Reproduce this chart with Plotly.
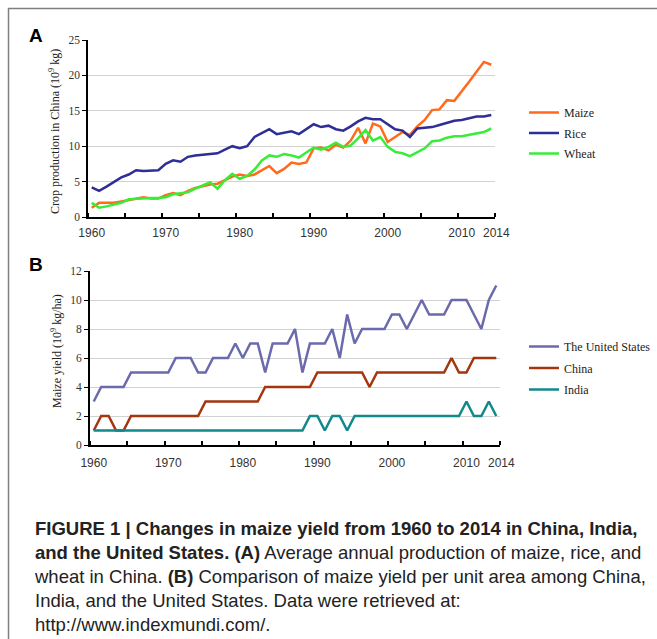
import plotly.graph_objects as go

W, H = 657, 639

years = list(range(1960, 2015))

# Panel A: crop production in China (10^9 kg)
maize = [1.3, 2.0, 2.0, 2.0, 2.2, 2.4, 2.6, 2.8, 2.6, 2.6,
         3.1, 3.4, 3.1, 3.7, 4.1, 4.4, 4.6, 4.7, 5.2, 5.7,
         6.0, 5.8, 6.0, 6.6, 7.2, 6.2, 6.8, 7.7, 7.5, 7.7,
         9.7, 9.8, 9.4, 10.2, 9.8, 10.8, 12.6, 10.4, 13.2, 12.8,
         10.6, 11.3, 12.0, 11.6, 12.8, 13.7, 15.1, 15.2, 16.5, 16.4,
         17.7, 19.1, 20.5, 21.9, 21.5]
rice = [4.2, 3.7, 4.3, 5.0, 5.6, 6.0, 6.6, 6.5, 6.5, 6.6,
        7.5, 8.0, 7.8, 8.5, 8.7, 8.8, 8.8, 9.0, 9.5, 10.0,
        9.7, 10.0, 11.3, 11.8, 12.4, 11.7, 11.9, 12.1, 11.7, 12.4,
        13.1, 12.7, 12.9, 12.4, 12.2, 12.8, 13.5, 14.0, 13.8, 13.8,
        13.1, 12.4, 12.2, 11.3, 12.5, 12.6, 12.7, 13.0, 13.3, 13.6,
        13.7, 14.0, 14.2, 14.2, 14.4]
wheat = [2.0, 1.3, 1.5, 1.7, 2.0, 2.5, 2.6, 2.6, 2.7, 2.7,
         2.8, 3.2, 3.4, 3.5, 4.0, 4.4, 4.9, 4.0, 5.2, 6.1,
         5.4, 5.8, 6.7, 8.0, 8.7, 8.5, 8.9, 8.7, 8.4, 9.1,
         9.8, 9.5, 9.9, 10.5, 9.9, 10.1, 11.1, 12.3, 10.8, 11.3,
         9.9, 9.2, 9.0, 8.6, 9.1, 9.7, 10.7, 10.8, 11.2, 11.4,
         11.4, 11.6, 11.9, 12.0, 12.5]

# Panel B: maize yield per unit area
us_yield = [3, 4, 4, 4, 4, 5, 5, 5, 5, 5,
            5, 6, 6, 6, 5, 5, 6, 6, 6, 7,
            6, 7, 7, 5, 7, 7, 7, 8, 5, 7,
            7, 7, 8, 6, 9, 7, 8, 8, 8, 8,
            9, 9, 8, 9, 10, 9, 9, 9, 10, 10,
            10, 9, 8, 10, 11]
china_yield = [1, 2, 2, 1, 1, 2, 2, 2, 2, 2,
               2, 2, 2, 2, 2, 3, 3, 3, 3, 3,
               3, 3, 3, 4, 4, 4, 4, 4, 4, 4,
               5, 5, 5, 5, 5, 5, 5, 4, 5, 5,
               5, 5, 5, 5, 5, 5, 5, 5, 6, 5,
               5, 6, 6, 6, 6]
india_yield = [1, 1, 1, 1, 1, 1, 1, 1, 1, 1,
               1, 1, 1, 1, 1, 1, 1, 1, 1, 1,
               1, 1, 1, 1, 1, 1, 1, 1, 1, 2,
               2, 1, 2, 2, 1, 2, 2, 2, 2, 2,
               2, 2, 2, 2, 2, 2, 2, 2, 2, 2,
               3, 2, 2, 3, 2]

decade_ticks = [1960, 1970, 1980, 1990, 2000, 2010]
last_year = 2014

SERIF = "Liberation Serif"
SANS = "Liberation Sans"


def px_x(x):
    return x / W


def px_y(y):
    return 1 - y / H


fig = go.Figure()

panel_a = [("Maize", maize, "#ff6a1c"),
           ("Rice", rice, "#2e2e96"),
           ("Wheat", wheat, "#38ec38")]
for name, vals, col in panel_a:
    fig.add_trace(go.Scatter(x=years, y=vals, name=name, mode="lines",
                             line=dict(color=col, width=2.5),
                             legendgroup=name,
                             xaxis="x", yaxis="y", legend="legend"))

panel_b = [("The United States", us_yield, "#6a6aac"),
           ("China", china_yield, "#a3360f"),
           ("India", india_yield, "#12898a")]
for name, vals, col in panel_b:
    fig.add_trace(go.Scatter(x=years, y=vals, name=name, mode="lines",
                             line=dict(color=col, width=2.5),
                             legendgroup=name,
                             xaxis="x2", yaxis="y2", legend="legend2"))

tick_font = dict(family=SANS, size=12, color="#333333")


def x_axis(domain, anchor, lw, standoff):
    return dict(domain=domain, anchor=anchor, range=[1959.5, 2014.5],
                tickmode="array", tickvals=decade_ticks,
                ticktext=[str(v) for v in decade_ticks], tickangle=0,
                ticklabelstandoff=standoff,
                ticks="", showgrid=False, zeroline=False,
                showline=True, linecolor="black", linewidth=lw,
                tickfont=tick_font,
                minor=dict(tickmode="linear", tick0=1959.5, dtick=5,
                           ticks="inside", ticklen=4, tickwidth=1.5,
                           tickcolor="black", showgrid=False),
                automargin=False, fixedrange=True)


def y_axis(domain, anchor, rng, step, lw):
    return dict(domain=domain, anchor=anchor, range=rng, dtick=step,
                tick0=0, ticks="outside", ticklen=4, tickwidth=1,
                tickcolor="black", showline=True, linecolor="black",
                linewidth=lw, showgrid=True, gridcolor="#d2d2d2",
                gridwidth=1, zeroline=False,
                tickfont=dict(family=SERIF, size=11.5, color="#333333"),
                automargin=False, fixedrange=True)


annotations = [
    dict(text="<b>A</b>", x=px_x(36), y=px_y(35), xref="paper", yref="paper",
         xanchor="center", yanchor="middle", showarrow=False,
         font=dict(family=SANS, size=19, color="black")),
    dict(text="<b>B</b>", x=px_x(36), y=px_y(264), xref="paper", yref="paper",
         xanchor="center", yanchor="middle", showarrow=False,
         font=dict(family=SANS, size=19, color="black")),
    # end-year labels, set slightly right of the final data column
    dict(text=str(last_year), x=last_year, xref="x", y=px_y(233), yref="paper",
         xanchor="center", yanchor="middle", xshift=5, showarrow=False,
         font=tick_font),
    dict(text=str(last_year), x=last_year, xref="x2", y=px_y(463), yref="paper",
         xanchor="center", yanchor="middle", xshift=5, showarrow=False,
         font=tick_font),
    dict(text="Crop production in China (10<sup>9</sup> kg)", textangle=-90,
         x=px_x(54), y=px_y(132), xref="paper", yref="paper",
         xanchor="center", yanchor="middle", showarrow=False,
         font=dict(family=SERIF, size=12, color="#222222")),
    dict(text="Maize yield (10<sup>9</sup> kg/ha)", textangle=-90,
         x=px_x(56), y=px_y(351), xref="paper", yref="paper",
         xanchor="center", yanchor="middle", showarrow=False,
         font=dict(family=SERIF, size=12, color="#222222")),
    dict(text=("<b>FIGURE 1 | Changes in maize yield from 1960 to 2014 in China, India,</b><br>"
               "<b>and the United States. (A)</b> Average annual production of maize, rice, and<br>"
               "wheat in China. <b>(B)</b> Comparison of maize yield per unit area among China,<br>"
               "India, and the United States. Data were retrieved at:<br>"
               "http://www.indexmundi.com/."),
         x=px_x(32), y=px_y(516), xref="paper", yref="paper",
         xanchor="left", yanchor="top", align="left", showarrow=False,
         font=dict(family=SANS, size=18.5, color="#222222")),
]

# frame around the figure
shapes = [
    dict(type="line", xref="paper", yref="paper", x0=px_x(8), x1=1,
         y0=px_y(8.5), y1=px_y(8.5), line=dict(color="#7f7f7f", width=1.5)),
    dict(type="line", xref="paper", yref="paper", x0=px_x(8.5), x1=px_x(8.5),
         y0=px_y(8), y1=0, line=dict(color="#7f7f7f", width=1.5)),
]

legend_font = dict(family=SERIF, size=12, color="#222222")

fig.update_layout(
    width=W, height=H,
    margin=dict(l=0, r=0, t=0, b=0, pad=0, autoexpand=False),
    paper_bgcolor="white", plot_bgcolor="white",
    xaxis=x_axis([px_x(88), px_x(495)], "y", 1.5, 4),
    yaxis=y_axis([px_y(217), px_y(40)], "x", [0, 25], 5, 1.5),
    xaxis2=x_axis([px_x(90), px_x(500)], "y2", 2, 6),
    yaxis2=y_axis([px_y(445), px_y(271)], "x2", [0, 12], 2, 2),
    legend=dict(x=px_x(524), y=px_y(98), xanchor="left", yanchor="top",
                font=legend_font, bgcolor="rgba(0,0,0,0)", itemwidth=30,
                tracegroupgap=1.5),
    legend2=dict(x=px_x(524), y=px_y(332), xanchor="left", yanchor="top",
                 font=legend_font, bgcolor="rgba(0,0,0,0)", itemwidth=30,
                 tracegroupgap=2.5),
    annotations=annotations,
    shapes=shapes,
    showlegend=True,
)

fig.write_html("out.html",
               post_script="document.body.style.margin='0';"
                           "document.body.style.overflow='hidden';")
